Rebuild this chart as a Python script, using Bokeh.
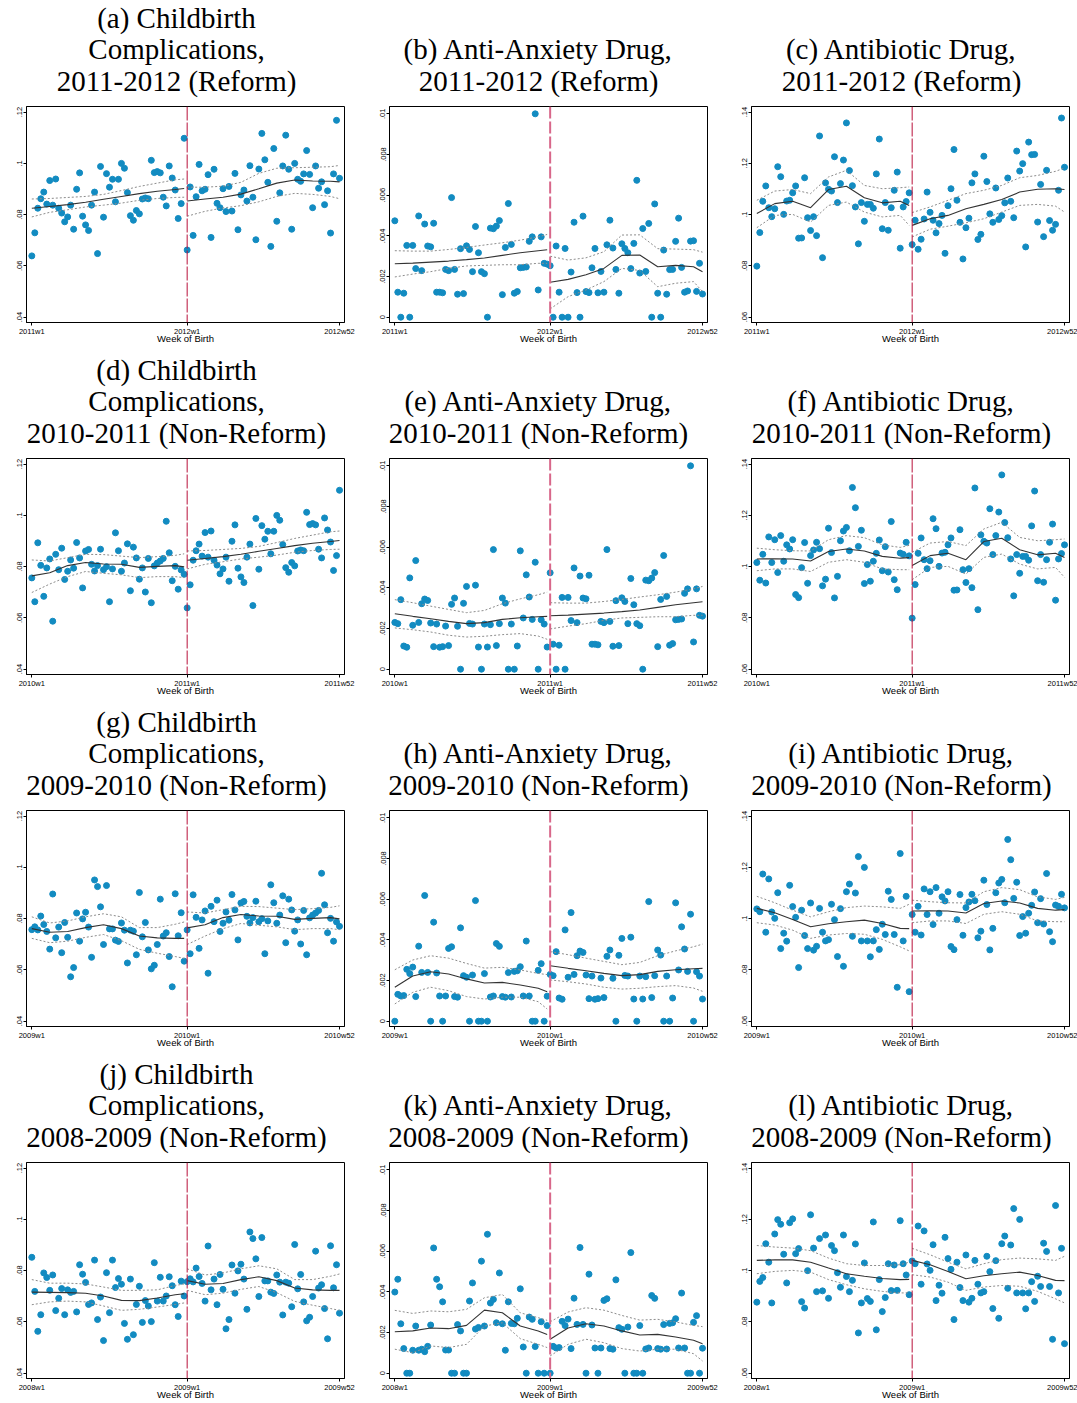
from bokeh.plotting import figure
from bokeh.layouts import column, row
from bokeh.models import Range1d, FixedTicker, Span
from bokeh.core.properties import value
from bokeh.embed import file_html
from bokeh.resources import INLINE

# ---------------- data ----------------
week_index = list(range(52))                     # week 1..52 of a year (0-based)
knot_weeks = [0, 6, 12, 18, 24, 30, 36, 42, 48, 51]  # weeks where fitted curve is read

# Childbirth complications (weekly share)
cb_2008 = [.0852, .0719, .0563, .0628, .0791, .0773, .0723, .0783, .0644, .0692,
           .0730, .0628, .0725, .0715, .0719, .0639, .0823, .0786, .0754, .0668,
           .0674, .0841, .0609, .0697, .0527, .0792, .0636, .0841, .0734, .0769,
           .0747, .0594, .0532, .0767, .0550, .0668, .0739, .0598, .0683, .0662,
           .0601, .0831, .0681, .0774, .0681, .0701, .0776, .0741, .0667, .0621,
           .0759, .0701]
cb_2009 = [.0757, .0768, .0756, .0810, .0777, .0750, .0681, .0896, .0725, .0767,
           .0667, .0785, .0727, .0573, .0609, .0822, .0712, .0799, .0825, .0767,
           .0649, .0951, .0925, .0846, .0699, .0929, .0760, .0760, .0716, .0711,
           .0783, .0755, .0627, .0755, .0751, .0659, .0902, .0729, .0785, .0678,
           .0604, .0618, .0699, .0876, .0732, .0745, .0652, .0534, .0897, .0733,
           .0823, .0634]
cb_2010 = [.0756, .0663, .0893, .0805, .0684, .0795, .0830, .0587, .0848, .0788,
           .0872, .0750, .0782, .0826, .0794, .0894, .0834, .0717, .0861, .0867,
           .0809, .0783, .0804, .0868, .0788, .0800, .0663, .0791, .0932, .0862,
           .0782, .0814, .0889, .0706, .0876, .0834, .0751, .0795, .0701, .0832,
           .0659, .0803, .0814, .0822, .0832, .0977, .0854, .0745, .0801, .0712,
           .0787, .0770]
cb_2011 = [.0639, .0729, .0825, .0862, .0888, .0841, .0933, .0837, .0939, .0825,
           .0806, .0772, .0791, .0837, .0743, .0899, .0963, .0794, .0760, .0738,
           .0837, .0888, .0648, .0988, .0790, .0960, .0907, .0938, .0850, .0938,
           .1000, .0981, .0886, .0796, .0778, .0816, .0803, .0861, .0865, .0862,
           .1012, .0964, .0968, .0963, .0868, .0834, .0990, .0943, .0896, .0785,
           .0843, .1098]
cb_2012 = [.0662, .0908, .0719, .0870, .0996, .0893, .0899, .0956, .0711, .0977,
           .0844, .0827, .0901, .0812, .0910, .0814, .0961, .0741, .0877, .0896,
           .0853, .0991, .0868, .0702, .0978, .1117, .1014, .0926, .0676, .1058,
           .0774, .0885, .0990, .1110, .0977, .0743, .1000, .0938, .0930, .0959,
           .1050, .0957, .0827, .0990, .0903, .0928, .0839, .0893, .0728, .0959,
           .1168, .0942]
cb_fit_2008 = [.0716, .0715, .0714, .0712, .0701, .0684, .0683, .0693, .0706, .0710]
cb_lo_2008 = [.0667, .0678, .0681, .0678, .0662, .0645, .0649, .0658, .0668, .0674]
cb_hi_2008 = [.0765, .0751, .0751, .0748, .0736, .0723, .0723, .0725, .0742, .0748]
cb_fit_2009 = [.0761, .0747, .0750, .0765, .0776, .0761, .0732, .0725, .0723, .0723]
cb_lo_2009 = [.0723, .0706, .0712, .0727, .0738, .0714, .0680, .0665, .0652, .0645]
cb_hi_2009 = [.0807, .0783, .0791, .0807, .0819, .0807, .0765, .0765, .0778, .0787]
cb_fit_2010 = [.0764, .0776, .0804, .0816, .0810, .0809, .0797, .0801, .0804, .0799]
cb_lo_2010 = [.0699, .0732, .0761, .0781, .0774, .0768, .0757, .0761, .0761, .0757]
cb_hi_2010 = [.0826, .0822, .0835, .0848, .0847, .0841, .0835, .0839, .0844, .0850]
cb_fit_2011 = [.0825, .0832, .0839, .0848, .0860, .0871, .0882, .0891, .0898, .0902]
cb_lo_2011 = [.0791, .0809, .0819, .0830, .0837, .0845, .0856, .0863, .0867, .0868]
cb_hi_2011 = [.0861, .0863, .0867, .0871, .0879, .0894, .0910, .0923, .0936, .0939]
cb_fit_2012 = [.0853, .0861, .0868, .0880, .0901, .0923, .0935, .0931, .0930, .0928]
cb_lo_2012 = [.0794, .0813, .0826, .0835, .0850, .0871, .0883, .0879, .0871, .0862]
cb_hi_2012 = [.0907, .0907, .0911, .0926, .0961, .0981, .0983, .0985, .0987, .0992]

# Anti-anxiety drug
ax_2008 = [.00399, .00462, .00243, .00121, 0, 0, .00113, .00232, .00113, .00118,
           .00106, .00132, .00237, .00616, .00462, .00425, .00351, .00114, .00114, 0,
           0, .00239, .00208, 0, 0, .00355, .00444, .00217, .00225, .00551,
           .00232, .00683, .00345, .00363, .00248, .00493, .00243, .00113, .00351, .00245,
           .00243, .00270, .00415, .00129, 0, .00276, .00265, .00131, 0, .00253,
           0, .00234]
ax_2009 = [0, .00132, .00124, .00126, .00255, .00234, .00266, .00121, .00369, .00240,
           .00618, .00240, 0, .00487, .00237, .00124, 0, .00124, .00358, .00366,
           .00121, .00118, .00459, .00224, .00216, 0, .00227, .00593, 0, 0,
           .00234, 0, .00119, .00124, .00382, .00368, .00121, .00118, .00239, .00119,
           .00245, .00248, .00268, .00124, .00394, .00124, 0, 0, .00250, .00283,
           0, .00123]
ax_2010 = [.00230, .00224, .00342, .00114, .00108, .00449, .00216, .00534, .00230, .00322,
           .00345, .00338, .00227, .00111, .00222, .00108, .00111, .00212, .00116, .00319,
           .00350, .00211, 0, .00324, .00407, .00225, .00222, .00413, .00109, 0,
           .00222, .00109, .00219, .00588, .00116, .00224, .00350, .00325, 0, .00222,
           0, .00114, .00582, .00252, .00464, .00355, .00245, .00526, 0, .00243,
           .00222, .00109]
ax_2011 = [.00474, .00123, 0, .00118, .00353, 0, .00353, .00239, .00498, .00229,
           .00458, .00350, .00346, .00462, .00123, .00123, .00120, .00235, .00229, .00588,
           .00235, .00113, .00337, .00116, .00351, .00333, .00224, .00446, .00317, .00224,
           .00214, 0, .00438, .00435, .00448, .00475, .00111, .00343, .00559, .00358,
           .00118, .00126, .00243, .00245, .00247, .00373, .00395, .01000, .00134, .00395,
           .00265, .00261]
ax_2012 = [.00253, 0, .00350, .00123, 0, .00338, 0, .00222, .00467, .00121,
           0, .00497, .00126, .00121, .00243, .00338, .00120, .00225, .00123, .00356,
           .00477, .00340, .00235, .00118, .00361, .00338, .00317, .00239, .00363, .00673,
           .00217, .00436, .00225, .00461, 0, .00557, .00118, 0, .00330, .00113,
           .00234, .00235, .00373, .00487, .00245, .00123, .00129, .00374, .00376, .00127,
           .00265, .00114]
ax_fit_2008 = [.00204, .00208, .00222, .00219, .00235, .00310, .00297, .00232, .00208, .00190]
ax_lo_2008 = [.00118, .00101, .00134, .00126, .00142, .00232, .00248, .00170, .00142, .00126]
ax_hi_2008 = [.00309, .00294, .00306, .00302, .00314, .00371, .00387, .00297, .00273, .00260]
ax_fit_2009 = [.00167, .00222, .00243, .00232, .00208, .00188, .00191, .00178, .00162, .00145]
ax_lo_2009 = [.00085, .00142, .00167, .00150, .00121, .00109, .00118, .00118, .00096, .00060]
ax_hi_2009 = [.00253, .00301, .00322, .00310, .00284, .00261, .00265, .00252, .00235, .00229]
ax_fit_2010 = [.00273, .00260, .00248, .00235, .00224, .00229, .00245, .00253, .00258, .00260]
ax_lo_2010 = [.00203, .00194, .00183, .00167, .00158, .00162, .00170, .00175, .00163, .00147]
ax_hi_2010 = [.00342, .00327, .00310, .00294, .00278, .00289, .00322, .00346, .00366, .00379]
ax_fit_2011 = [.00263, .00266, .00271, .00276, .00283, .00291, .00304, .00317, .00327, .00332]
ax_lo_2011 = [.00198, .00212, .00224, .00240, .00252, .00255, .00258, .00258, .00265, .00265]
ax_hi_2011 = [.00327, .00325, .00325, .00333, .00343, .00355, .00366, .00379, .00395, .00407]
ax_fit_2012 = [.00172, .00186, .00209, .00240, .00304, .00306, .00248, .00255, .00248, .00224]
ax_lo_2012 = [.00041, .00101, .00134, .00175, .00240, .00230, .00150, .00167, .00175, .00126]
ax_hi_2012 = [.00300, .00281, .00292, .00322, .00404, .00405, .00337, .00335, .00332, .00320]

# Antibiotic drug
ab_2008 = [.0877, .0958, .0973, .1105, .1033, .0874, .1143, .1199, .1181, .1064,
           .0952, .1187, .1202, .1066, .1086, .0879, .0854, .1000, .1218, .1088,
           .0918, .1125, .0921, .1139, .0892, .1098, .1078, .0992, .0935, .1139,
           .0977, .0918, .0962, .1104, .0757, .0874, .1030, .0891, .0880, .1190,
           .0769, .0965, .0840, .0895, .1027, .0922, .1022, .0923, .1195, .1027,
           .0983, .0906]
ab_2009 = [.1038, .1027, .1174, .0947, .1155, .1026, .1001, .1101, .0883, .0943,
           .0912, .1130, .1047, .1005, .0809, .1033, .0934, .0883, .1061, .0877,
           .0892, .1040, .0947, .0913, .0918, .1056, .0996, .0852, .1039, .0814,
           .1105, .1135, .0931, .1100, .1242, .0913, .1200, .0913, .0851, .0913,
           .0957, .0880, .0978, .0938, .1107, .1075, .0938, .0732, .1254, .0913,
           .1087, .0715]
ab_2010 = [.1016, .0947, .1048, .0936, .1116, .1016, .1105, .0977, .1121, .1021,
           .1085, .1069, .1105, .0891, .0879, .0996, .1094, .0935, .1043, .1065,
           .1095, .1070, .0925, .0951, .1150, .1055, .0878, .0962, .1101, .1139,
           .1153, .1062, .1309, .1230, .1079, .1142, .0934, .1008, .0943, .1021,
           .1052, .1104, .0984, .1078, .0979, .1176, .0949, .0910, .1053, .1048,
           .1095, .1042]
ab_2011 = [.0799, .0930, .1052, .1112, .1027, .0992, .1023, .1187, .1148, .1001,
           .1053, .1056, .1085, .1112, .0908, .0909, .1144, .0988, .0938, .0992,
           .0918, .1307, .0832, .1124, .1099, .1092, .1226, .1047, .1121, .1213,
           .1358, .1172, .1113, .1030, .0886, .1047, .0974, .1040, .1040, .1025,
           .1159, .1295, .0945, .1047, .0939, .1027, .1095, .1166, .0869, .1030,
           .1051, .1085]
ab_2012 = [.0883, .0978, .0865, .0904, .0983, .1088, .1009, .0978, .0929, .0965,
           .0997, .0849, .1035, .1101, .1254, .1056, .0970, .0827, .0949, .0986,
           .1124, .1159, .0903, .0923, .1228, .1129, .1003, .0970, .1104, .0981,
           .0996, .1046, .1143, .1052, .0988, .1248, .1170, .1199, .0874, .1283,
           .1234, .1235, .0971, .1118, .0914, .1173, .0977, .0939, .0962, .1095,
           .1377, .1185]
ab_fit_2008 = [.1040, .1042, .1042, .1033, .1010, .0988, .0978, .0969, .0965, .0966]
ab_lo_2008 = [.0988, .0997, .1001, .0994, .0965, .0945, .0929, .0919, .0913, .0913]
ab_hi_2008 = [.1098, .1092, .1088, .1078, .1049, .1027, .1020, .1020, .1023, .1033]
ab_fit_2009 = [.1040, .1023, .0997, .0968, .0980, .0988, .0994, .0981, .0962, .0961]
ab_lo_2009 = [.0984, .0975, .0955, .0923, .0936, .0942, .0939, .0919, .0890, .0874]
ab_hi_2009 = [.1087, .1062, .1033, .1007, .1027, .1043, .1049, .1046, .1040, .1056]
ab_fit_2010 = [.1030, .1031, .1030, .1022, .1059, .1069, .1061, .1040, .1033, .1035]
ab_lo_2010 = [.0984, .0991, .0991, .0981, .1017, .1027, .1017, .0991, .0988, .0988]
ab_hi_2010 = [.1072, .1066, .1062, .1061, .1105, .1121, .1113, .1085, .1075, .1083]
ab_fit_2011 = [.1004, .1043, .1052, .1027, .1098, .1111, .1066, .1046, .1052, .1036]
ab_lo_2011 = [.0949, .0997, .1001, .0971, .1036, .1049, .1010, .0991, .0997, .0958]
ab_hi_2011 = [.1056, .1092, .1098, .1082, .1147, .1173, .1114, .1101, .1105, .1108]
ab_fit_2012 = [.0958, .0984, .0997, .1023, .1040, .1059, .1088, .1099, .1101, .1098]
ab_lo_2012 = [.0913, .0943, .0955, .0968, .0984, .1010, .1036, .1040, .1033, .1010]
ab_hi_2012 = [.1008, .1030, .1056, .1082, .1095, .1114, .1144, .1153, .1169, .1182]

points = {
    "cb": {2008: cb_2008, 2009: cb_2009, 2010: cb_2010, 2011: cb_2011, 2012: cb_2012},
    "ax": {2008: ax_2008, 2009: ax_2009, 2010: ax_2010, 2011: ax_2011, 2012: ax_2012},
    "ab": {2008: ab_2008, 2009: ab_2009, 2010: ab_2010, 2011: ab_2011, 2012: ab_2012},
}
fits = {
    "cb": {2008: (cb_fit_2008, cb_lo_2008, cb_hi_2008), 2009: (cb_fit_2009, cb_lo_2009, cb_hi_2009),
           2010: (cb_fit_2010, cb_lo_2010, cb_hi_2010), 2011: (cb_fit_2011, cb_lo_2011, cb_hi_2011),
           2012: (cb_fit_2012, cb_lo_2012, cb_hi_2012)},
    "ax": {2008: (ax_fit_2008, ax_lo_2008, ax_hi_2008), 2009: (ax_fit_2009, ax_lo_2009, ax_hi_2009),
           2010: (ax_fit_2010, ax_lo_2010, ax_hi_2010), 2011: (ax_fit_2011, ax_lo_2011, ax_hi_2011),
           2012: (ax_fit_2012, ax_lo_2012, ax_hi_2012)},
    "ab": {2008: (ab_fit_2008, ab_lo_2008, ab_hi_2008), 2009: (ab_fit_2009, ab_lo_2009, ab_hi_2009),
           2010: (ab_fit_2010, ab_lo_2010, ab_hi_2010), 2011: (ab_fit_2011, ab_lo_2011, ab_hi_2011),
           2012: (ab_fit_2012, ab_lo_2012, ab_hi_2012)},
}

outcomes = ["cb", "ax", "ab"]
row_first_years = [2011, 2010, 2009, 2008]
titles = [
    [["(a) Childbirth", "Complications,", "2011-2012 (Reform)"],
     ["(b) Anti-Anxiety Drug,", "2011-2012 (Reform)"],
     ["(c) Antibiotic Drug,", "2011-2012 (Reform)"]],
    [["(d) Childbirth", "Complications,", "2010-2011 (Non-Reform)"],
     ["(e) Anti-Anxiety Drug,", "2010-2011 (Non-Reform)"],
     ["(f) Antibiotic Drug,", "2010-2011 (Non-Reform)"]],
    [["(g) Childbirth", "Complications,", "2009-2010 (Non-Reform)"],
     ["(h) Anti-Anxiety Drug,", "2009-2010 (Non-Reform)"],
     ["(i) Antibiotic Drug,", "2009-2010 (Non-Reform)"]],
    [["(j) Childbirth", "Complications,", "2008-2009 (Non-Reform)"],
     ["(k) Anti-Anxiety Drug,", "2008-2009 (Non-Reform)"],
     ["(l) Antibiotic Drug,", "2008-2009 (Non-Reform)"]],
]
x_axis_title = "Week of Birth"
y_ticks = {"cb": [0.04, 0.06, 0.08, 0.1, 0.12],
           "ax": [0, 0.002, 0.004, 0.006, 0.008, 0.01],
           "ab": [0.06, 0.08, 0.1, 0.12, 0.14]}
y_tick_labels = {"cb": [".04", ".06", ".08", ".1", ".12"],
                 "ax": ["0", ".002", ".004", ".006", ".008", ".01"],
                 "ab": [".06", ".08", ".1", ".12", ".14"]}
y_limits = {"cb": (0.0379, 0.1222), "ax": (-0.00026, 0.01036), "ab": (0.0579, 0.1422)}
x_tick_weeks = [0, 52, 103]

# ---------------- style / layout ----------------
DOT = "#128bc1"
FIT = "#333333"
CI = "#8c8c8c"
SANS = "Liberation Sans"
SERIF = "Liberation Serif"
W_TOTAL = 1077
HEAD_H = 104
FW, FH = 318, 216
col_right_border = [19, 18, 8]
title_centers = [176, 538, 901]          # page x of each title's centre
title_rows_from_top = [80, 48, 17]       # page y (within strip) of lines, last line first


def make_head(r):
    h = figure(frame_width=W_TOTAL, frame_height=HEAD_H,
               x_range=Range1d(0, W_TOTAL), y_range=Range1d(0, HEAD_H),
               output_backend="svg", toolbar_location=None,
               min_border=0, x_axis_type=None, y_axis_type=None,
               background_fill_color="white", border_fill_color="white")
    h.outline_line_color = None
    h.xgrid.visible = False
    h.ygrid.visible = False
    xs, ys, ts = [], [], []
    for c in range(3):
        lines = titles[r][c]
        for k, txt in enumerate(reversed(lines)):
            xs.append(title_centers[c])
            ys.append(HEAD_H - title_rows_from_top[k])
            ts.append(txt)
    h.text(x=xs, y=ys, text=ts, text_align="center", text_baseline="middle",
           text_font=value(SERIF), text_font_size=value("29px"), text_color="black")
    return h


def make_panel(r, c):
    key = outcomes[c]
    y1 = row_first_years[r]
    y2 = y1 + 1
    bottom = 30 if r < 3 else 25
    p = figure(frame_width=FW, frame_height=FH,
               x_range=Range1d(-1.78, 104.67), y_range=Range1d(*y_limits[key]),
               output_backend="svg", toolbar_location=None,
               min_border_left=26, min_border_right=col_right_border[c],
               min_border_top=2, min_border_bottom=bottom,
               background_fill_color="white", border_fill_color="white")
    p.outline_line_color = "black"
    p.outline_line_width = 1
    p.xgrid.visible = False
    p.ygrid.visible = False

    xl = week_index
    xr = [52 + w for w in week_index]
    kl = knot_weeks
    kr = [52 + w for w in knot_weeks]

    p.scatter(xl, points[key][y1], size=6, color=DOT, line_color=DOT)
    p.scatter(xr, points[key][y2], size=6, color=DOT, line_color=DOT)

    for xs, yr in ((kl, y1), (kr, y2)):
        fit, lo, hi = fits[key][yr]
        p.line(xs, lo, line_color=CI, line_width=1, line_dash="2 2")
        p.line(xs, hi, line_color=CI, line_width=1, line_dash="2 2")
        p.line(xs, fit, line_color=FIT, line_width=1.1)

    if key == "ax":
        span = Span(location=52, dimension="height", line_color="#d8678a",
                    line_width=2, line_dash="12 3")
    else:
        span = Span(location=52, dimension="height", line_color="#b8103a",
                    line_width=1, line_dash="14 2")
    p.add_layout(span)

    xlabels = [f"{y1}w1", f"{y2}w1", f"{y2}w52"]
    p.xaxis.ticker = FixedTicker(ticks=x_tick_weeks)
    p.xaxis.major_label_overrides = {w: s for w, s in zip(x_tick_weeks, xlabels)}
    p.xaxis.axis_label = x_axis_title
    p.yaxis.ticker = FixedTicker(ticks=y_ticks[key])
    p.yaxis.major_label_overrides = {v: s for v, s in zip(y_ticks[key], y_tick_labels[key])}
    p.yaxis.major_label_orientation = "vertical"
    for ax in (p.xaxis[0], p.yaxis[0]):
        ax.axis_line_color = "black"
        ax.axis_line_width = 1
        ax.major_tick_out = 3
        ax.major_tick_in = 0
        ax.minor_tick_out = 0
        ax.minor_tick_in = 0
        ax.major_tick_line_color = "black"
        ax.major_label_text_font = SANS
        ax.major_label_text_font_size = "7.5px"
        ax.major_label_text_color = "black"
        ax.major_label_standoff = 1
    p.xaxis.axis_label_text_font = SANS
    p.xaxis.axis_label_text_font_size = "9.5px"
    p.xaxis.axis_label_text_font_style = "normal"
    p.xaxis.axis_label_text_color = "black"
    p.xaxis.axis_label_standoff = -6
    return p


blocks = []
for r in range(4):
    blocks.append(make_head(r))
    blocks.append(row([make_panel(r, c) for c in range(3)], spacing=0))
layout = column(blocks, spacing=0)

open("out.html", "w").write(file_html(layout, INLINE))
